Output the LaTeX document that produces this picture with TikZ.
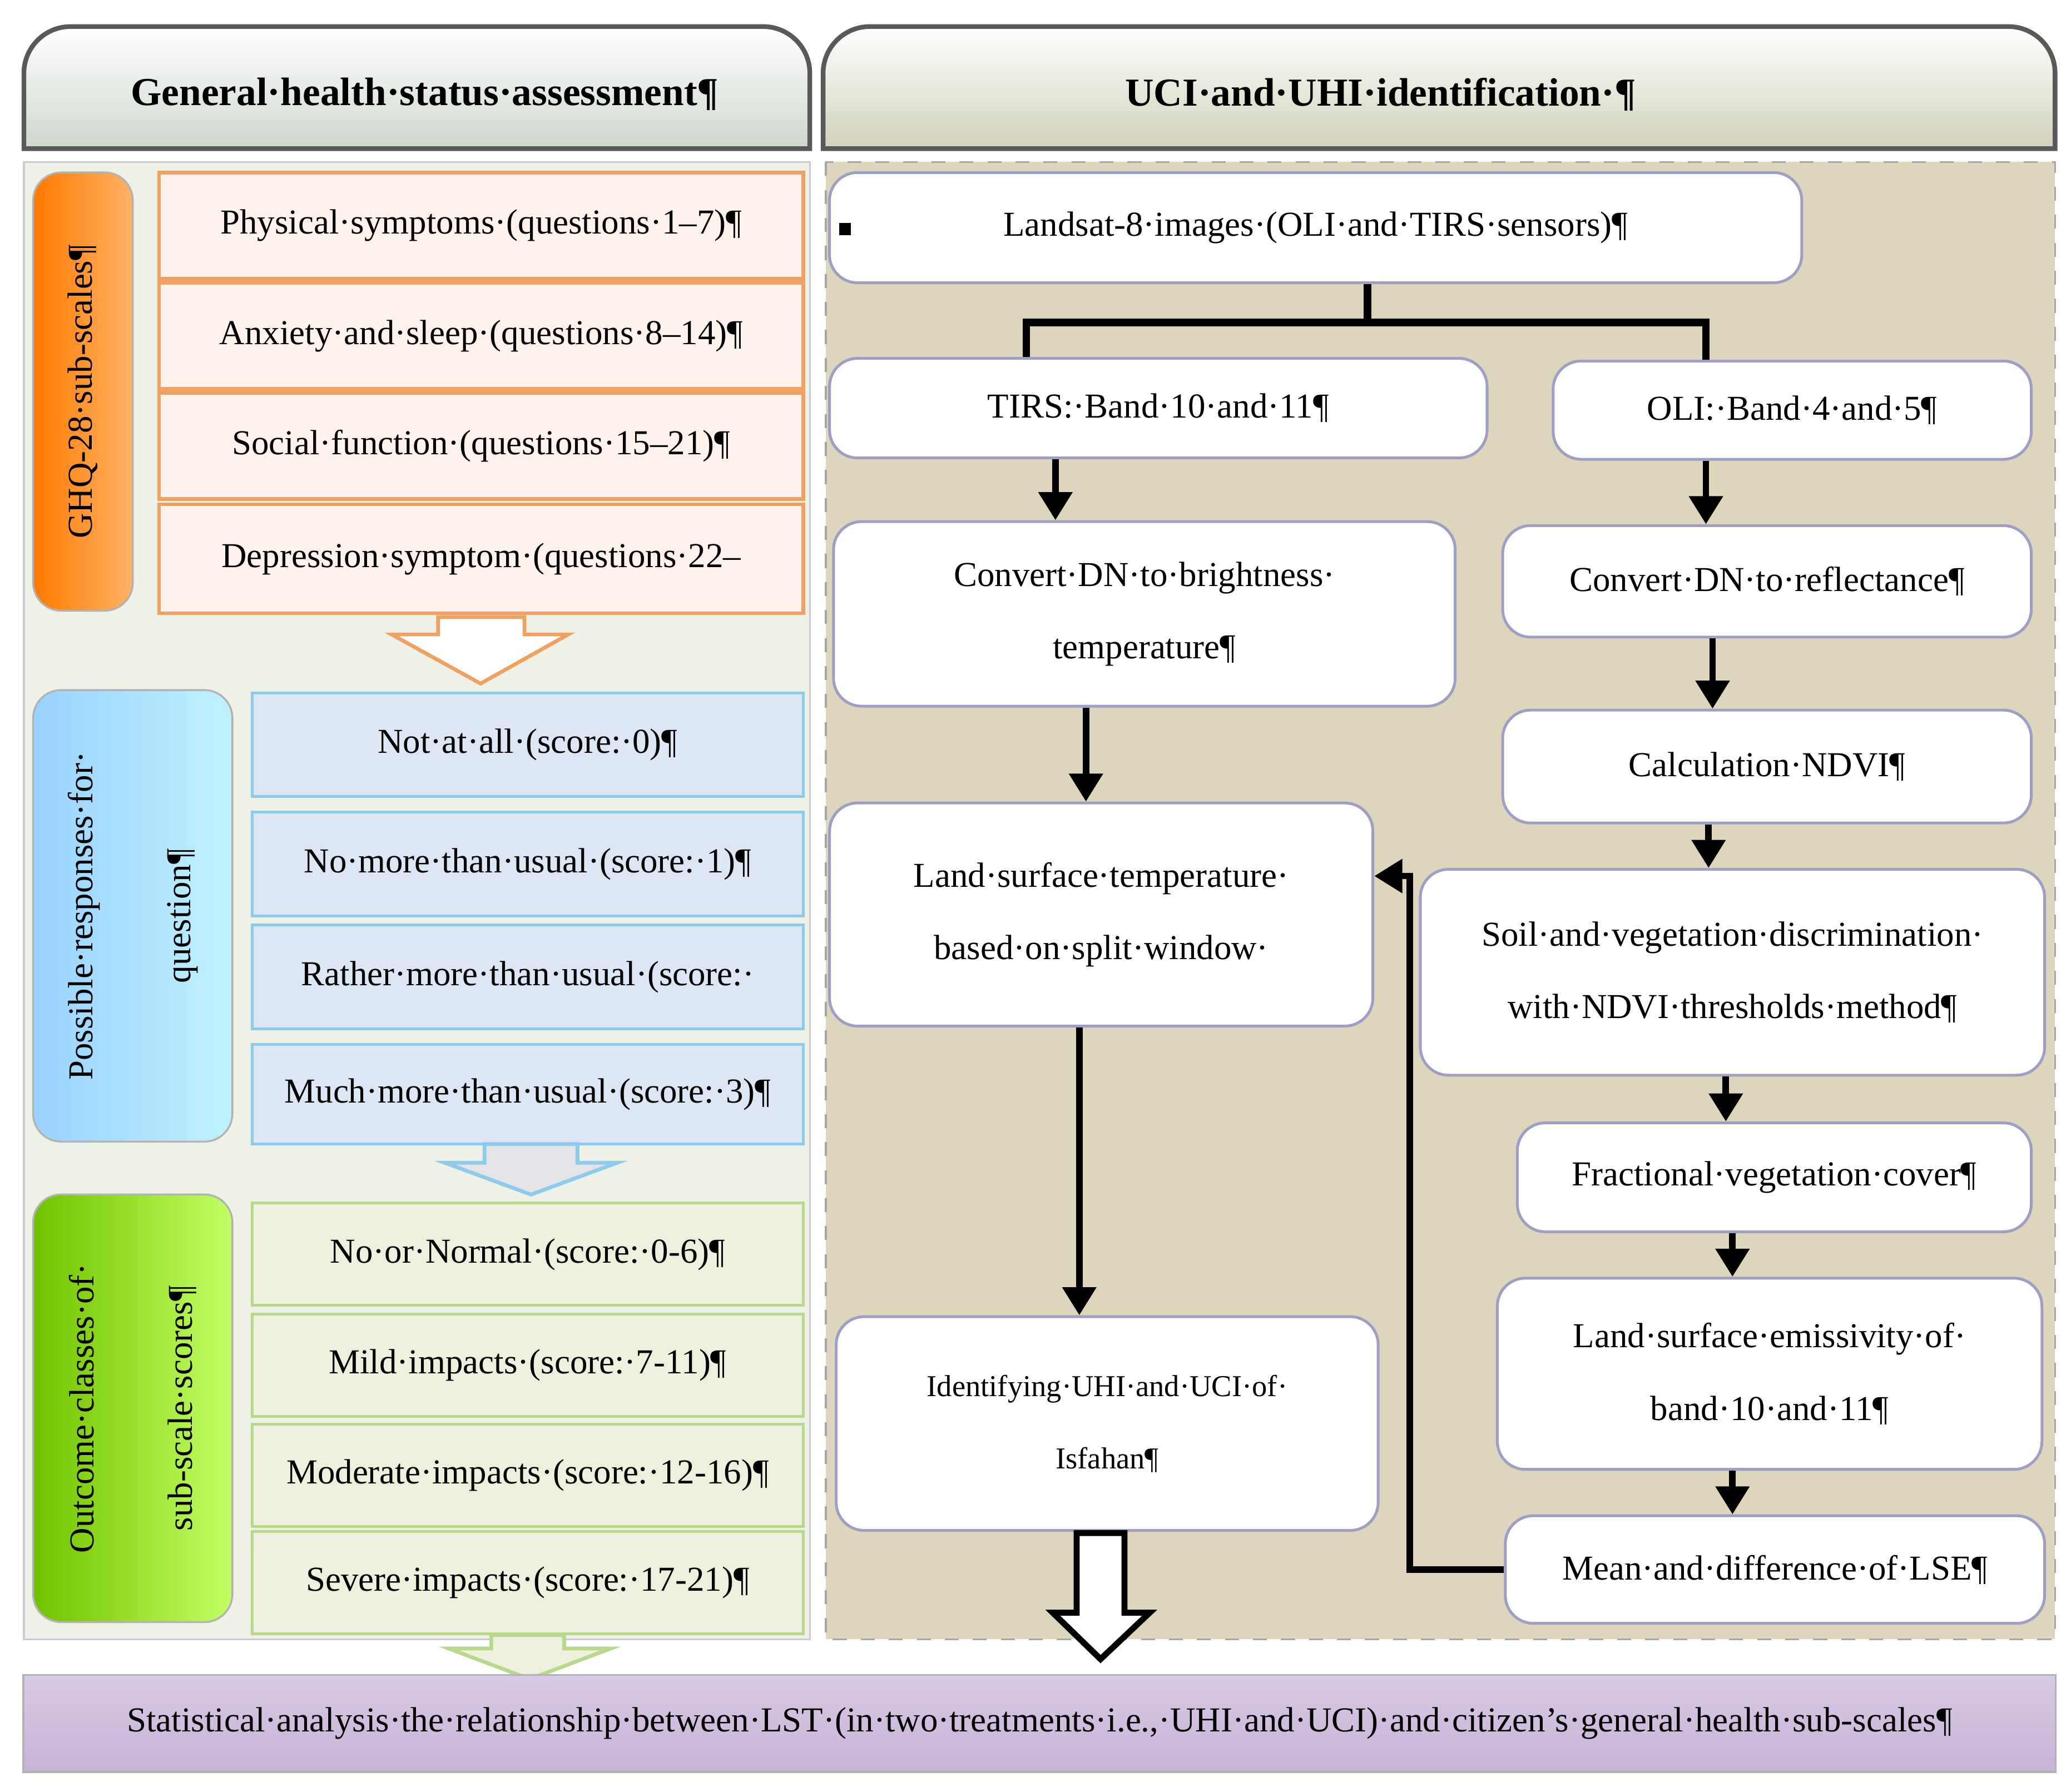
\documentclass[tikz,border=0pt]{standalone}
\usepackage{fontspec}
\setmainfont{Liberation Serif}
\usetikzlibrary{arrows.meta,positioning,calc}
\definecolor{leftbg}{HTML}{EEF1E6}
\definecolor{rightbg}{HTML}{DDD6BC}
\definecolor{orangebd}{HTML}{F0A060}
\definecolor{orangefl}{HTML}{FDF3EC}
\definecolor{bluebd}{HTML}{8CCBEA}
\definecolor{bluefl}{HTML}{DDE6F5}
\definecolor{greenbd}{HTML}{B8D98C}
\definecolor{greenfl}{HTML}{EEF0DD}
\definecolor{purplefl}{HTML}{C7B2D8}
\tikzset{
  txt/.style={font=\fontsize{7.5}{9}\selectfont},
  twoline/.style={align=center, font=\fontsize{7.5}{15.5}\selectfont},
  obox/.style={draw=orangebd, fill=orangefl, line width=0.8pt, txt, minimum width=4.85cm},
  bbox/.style={draw=bluebd, fill=bluefl, line width=0.6pt, txt, minimum width=4.15cm},
  gbox/.style={draw=greenbd, fill=greenfl, line width=0.6pt, txt, minimum width=4.15cm},
  wbox/.style={draw=blue!25!gray!60, fill=white, rounded corners=6pt, line width=0.6pt, txt},
  tab/.style={rounded corners=6pt, draw=gray!60, align=center, txt},
  flow/.style={line width=1.4pt, -{Triangle[length=6pt,width=7pt]}},
}
\begin{document}
\begin{tikzpicture}[x=0.01cm, y=-0.01cm]
    \useasboundingbox (0,0) rectangle (1560,1350);
    % Headers
    \draw[gray!70!black, line width=1pt, top color=white, bottom color=green!10!gray!35]
        (18,112) [rounded corners=10pt] -- (18,20) -- (610,20) [sharp corners] -- (610,112) -- cycle;
    \node[font=\bfseries\fontsize{8.5}{10}\selectfont] (hleft) at (320,71) {General·health·status·assessment¶};
    \draw[gray!70!black, line width=1pt, top color=white, bottom color=yellow!20!gray!45]
        (620,112) [rounded corners=10pt] -- (620,20) -- (1548,20) [sharp corners] -- (1548,112) -- cycle;
    \node[font=\bfseries\fontsize{8.5}{10}\selectfont] (hright) at (1040,71) {UCI·and·UHI·identification·¶};

    % Panels
    \draw[gray!40, fill=leftbg] (18,122) rectangle (610,1235);
    \draw[gray!70, dashed, fill=rightbg] (622,122) rectangle (1548,1235);

    % GHQ-28 sub-scales
    \node[tab, left color=orange!95!red, right color=orange!60, minimum width=3.3cm, minimum height=0.75cm, rotate=90] (ghq) at (62.5,295) {GHQ-28·sub-scales¶};
    \node[obox, minimum height=0.8cm] (phys) at (362.5,170) {Physical·symptoms·(questions·1–7)¶};
    \node[obox, minimum height=0.8cm] (anx) at (362.5,253) {Anxiety·and·sleep·(questions·8–14)¶};
    \node[obox, minimum height=0.8cm] (soc) at (362.5,336) {Social·function·(questions·15–21)¶};
    \node[obox, minimum height=0.82cm] (dep) at (362.5,421) {Depression·symptom·(questions·22–};
    \draw[orangebd, fill=white, line width=0.8pt] (330,465) -- (395,465) -- (395,478) -- (428,478)
        -- (362,515) -- (295,478) -- (330,478) -- cycle;

    % Possible responses
    \node[tab, left color=blue!45!cyan!40, right color=blue!20!cyan!25, minimum width=3.4cm, minimum height=1.5cm, rotate=90] (resp) at (100,690) {Possible·responses·for·\\[12pt]question¶};
    \node[bbox, minimum height=0.78cm] (r0) at (397.5,561) {Not·at·all·(score:·0)¶};
    \node[bbox, minimum height=0.78cm] (r1) at (397.5,651) {No·more·than·usual·(score:·1)¶};
    \node[bbox, minimum height=0.78cm] (r2) at (397.5,736) {Rather·more·than·usual·(score:·};
    \node[bbox, minimum height=0.75cm] (r3) at (397.5,824.5) {Much·more·than·usual·(score:·3)¶};
    \draw[bluebd, fill=blue!8!gray!20, line width=0.8pt] (365,862) -- (435,862) -- (435,876) -- (465,876)
        -- (400,900) -- (335,876) -- (365,876) -- cycle;

    % Outcome classes
    \node[tab, left color=olive!60!green!80, right color=yellow!60!green!60, minimum width=3.22cm, minimum height=1.5cm, rotate=90] (outc) at (100,1061) {Outcome·classes·of·\\[12pt]sub-scale·scores¶};
    \node[gbox, minimum height=0.77cm] (o0) at (397.5,945) {No·or·Normal·(score:·0-6)¶};
    \node[gbox, minimum height=0.77cm] (o1) at (397.5,1028.5) {Mild·impacts·(score:·7-11)¶};
    \node[gbox, minimum height=0.77cm] (o2) at (397.5,1111.5) {Moderate·impacts·(score:·12-16)¶};
    \node[gbox, minimum height=0.77cm] (o3) at (397.5,1192.5) {Severe·impacts·(score:·17-21)¶};
    \draw[greenbd, fill=greenfl, line width=0.8pt] (370,1232) -- (425,1232) -- (425,1242) -- (460,1242)
        -- (399,1265) -- (338,1242) -- (370,1242) -- cycle;

    % Right flow
    \node[wbox, minimum width=7.32cm, minimum height=0.83cm] (land) at (991,171.5) {Landsat-8·images·(OLI·and·TIRS·sensors)¶};
    \fill (632,168) rectangle (641,177);
    \node[wbox, minimum width=4.95cm, minimum height=0.75cm] (tirs) at (872.5,307.5) {TIRS:·Band·10·and·11¶};
    \node[wbox, minimum width=3.6cm, minimum height=0.74cm] (oli) at (1350,309) {OLI:·Band·4·and·5¶};
    \node[wbox, twoline, minimum width=4.68cm, minimum height=1.39cm] (bright) at (862,462.5) {Convert·DN·to·brightness·\\temperature¶};
    \node[wbox, minimum width=3.98cm, minimum height=0.84cm] (refl) at (1331,438) {Convert·DN·to·reflectance¶};
    \node[wbox, minimum width=3.98cm, minimum height=0.85cm] (ndvi) at (1331,577.5) {Calculation·NDVI¶};
    \node[wbox, twoline, minimum width=4.7cm, minimum height=1.55cm] (soil) at (1305,732.5) {Soil·and·vegetation·discrimination·\\with·NDVI·thresholds·method¶};
    \node[wbox, minimum width=3.87cm, minimum height=0.82cm] (fvc) at (1336.5,887) {Fractional·vegetation·cover¶};
    \node[wbox, twoline, minimum width=4.1cm, minimum height=1.44cm] (lse) at (1333,1035) {Land·surface·emissivity·of·\\band·10·and·11¶};
    \node[wbox, minimum width=4.06cm, minimum height=0.81cm] (mean) at (1337,1182.5) {Mean·and·difference·of·LSE¶};
    \node[wbox, twoline, minimum width=4.09cm, minimum height=1.68cm] (lst) at (829.5,689) {Land·surface·temperature·\\based·on·split·window·};
    \node[wbox, align=center, font=\fontsize{6.5}{15.5}\selectfont, minimum width=4.08cm, minimum height=1.61cm] (ident) at (834,1072.5) {Identifying·UHI·and·UCI·of·\\Isfahan¶};

    % Connectors
    \draw[line width=1.6pt] (land.south -| 1030,0) -- (1030,243) coordinate (split);
    \draw[line width=1.6pt] (tirs.north -| 773,0) |- (split) -| (oli.north -| 1285,0);
    \draw[flow] (tirs.south -| 795,0) -- (bright.north -| 795,0);
    \draw[flow] (oli.south -| 1285,0) -- (refl.north -| 1285,0);
    \draw[flow] (refl.south -| 1290,0) -- (ndvi.north -| 1290,0);
    \draw[flow] (ndvi.south -| 1287,0) -- (soil.north -| 1287,0);
    \draw[flow] (soil.south -| 1300,0) -- (fvc.north -| 1300,0);
    \draw[flow] (fvc.south -| 1305,0) -- (lse.north -| 1305,0);
    \draw[flow] (lse.south -| 1305,0) -- (mean.north -| 1305,0);
    \draw[flow] (bright.south -| 818,0) -- (lst.north -| 818,0);
    \draw[flow] (mean.west) -| (1062,660) -- (lst.east |- 0,660);
    \draw[flow] (lst.south -| 813,0) -- (ident.north -| 813,0);
    \draw[line width=1.3pt, fill=white] (811,1155) -- (847,1155) -- (847,1215) -- (866,1215)
        -- (829,1250) -- (793,1215) -- (811,1215) -- cycle;

    % Bottom bar
    \node[draw=gray!60, top color=purplefl!70, bottom color=purplefl, minimum width=15.3cm, minimum height=0.73cm,
        font=\fontsize{7.5}{9}\selectfont] (stat) at (783,1298.5)
        {Statistical·analysis·the·relationship·between·LST·(in·two·treatments·i.e.,·UHI·and·UCI)·and·citizen’s·general·health·sub-scales¶};
\end{tikzpicture}
\end{document}
